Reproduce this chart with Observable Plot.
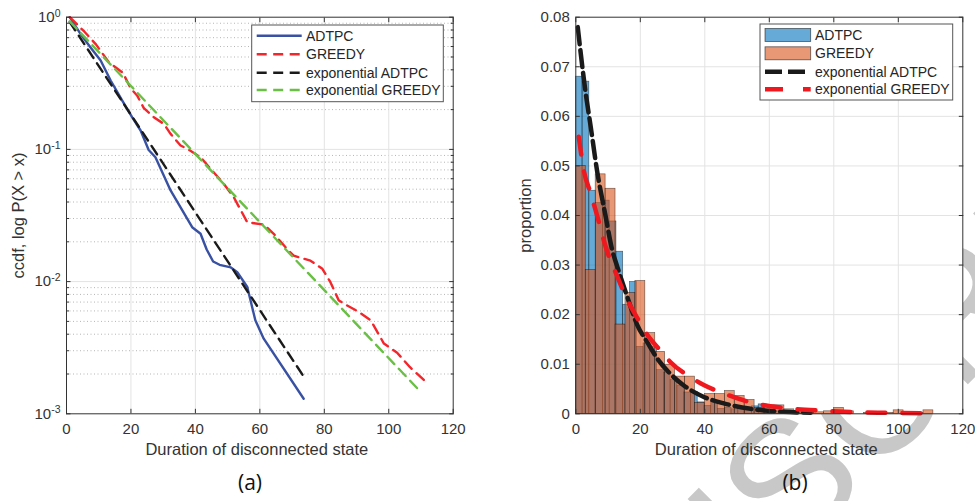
<!DOCTYPE html>
<html><head><meta charset="utf-8">
<script src="https://cdn.jsdelivr.net/npm/d3@7"></script>
<script src="https://cdn.jsdelivr.net/npm/@observablehq/plot@0.6"></script>
<style>
body{margin:0;background:#fff;}
#wrap{position:relative;width:975px;height:501px;overflow:hidden;}
#wrap svg{position:absolute;top:0;}
</style></head><body><div id="wrap"></div>
<script>
// ---------- data ----------
const xTicks = [0, 20, 40, 60, 80, 100, 120];
const ccdfTicks = [0.001, 0.01, 0.1, 1];
const propTicks = [0, 0.01, 0.02, 0.03, 0.04, 0.05, 0.06, 0.07, 0.08];
const seriesNames = ["ADTPC", "GREEDY", "exponential ADTPC", "exponential GREEDY"];

// (a) empirical ccdf
const ccdfAdtpcX = [1, 4.3, 7.4, 10.6, 13.7, 17.3, 20.4, 23, 25.5, 27.6, 32.3, 39, 41.6, 43.5, 45.5, 47.5, 51, 53, 56.1, 58.6, 61.2, 73.6];
const ccdfAdtpcY = [1, 0.75, 0.593, 0.47, 0.332, 0.234, 0.175, 0.139, 0.099, 0.0873, 0.0489, 0.0258, 0.023, 0.0175, 0.0142, 0.0134, 0.0128, 0.0118, 0.0091, 0.0051, 0.0037, 0.0013];
const ccdfGreedyX = [1, 5.5, 9.2, 13.1, 17.5, 19.9, 21.9, 24, 27.1, 30.2, 32.3, 35.4, 37.5, 41.6, 44.7, 48.8, 51.9, 56.1, 61.2, 64.3, 68.4, 70.5, 75.7, 79.4, 81.9, 84.5, 87.1, 90.7, 94.4, 98.5, 102.6, 106.6, 110.9];
const ccdfGreedyY = [1, 0.78, 0.62, 0.457, 0.38, 0.29, 0.256, 0.205, 0.175, 0.156, 0.131, 0.107, 0.101, 0.0873, 0.0713, 0.0549, 0.0435, 0.0281, 0.027, 0.023, 0.0177, 0.0157, 0.0144, 0.0125, 0.0099, 0.0072, 0.0066, 0.0059, 0.0051, 0.0034, 0.0029, 0.00225, 0.0018];
// (a) exponential fits (straight on log axis)
const ccdfExpAdtpcX = [1, 74];
const ccdfExpAdtpcY = [0.92, 0.00185];
const ccdfExpGreedyX = [1, 109.5];
const ccdfExpGreedyY = [0.93, 0.0015];

// (b) histograms (proportion per bin)
const adtpcBinWidth = 2.1;
const adtpcHist = [0.068, 0.067, 0.045, 0.0425, 0.043, 0.0388, 0.0327, 0.022, 0.0266, 0.0135, 0.0142, 0.0135, 0.0088, 0.0083, 0.0068, 0.0057, 0.0043, 0.0044, 0.0023, 0.0016, 0.0024, 0.0010, 0.0012, 0.0009, 0.0013, 0.0008, 0.0015, 0.0019, 0.0005, 0.0005, 0.0003, 0.0002, 0.0003, 0.0002, 0.0002];
const greedyBinWidth = 3.08;
const greedyHist = [0.050, 0.029, 0.0483, 0.0454, 0.018, 0.0244, 0.0268, 0.0163, 0.0125, 0.0099, 0.0075, 0.0075, 0.0022, 0.004, 0.004, 0.0046, 0.0036, 0.0028, 0.0012, 0.0017, 0.0017, 0.0009, 0.0005, 0.0007, 0.0003, 0.0005, 0.0012, 0.0005, 0, 0.0002, 0.0002, 0.0002, 0.0007, 0, 0.0002, 0.0007];
// (b) exponential pdf fits
const pdfExpAdtpcX = [0.6, 3, 4.6, 6.6, 9.2, 11.3, 12.8, 15.9, 19, 22.1, 25.2, 29.4, 33.5, 39.7, 45.9, 54.2, 64.5, 72.8];
const pdfExpAdtpcY = [0.078, 0.065, 0.058, 0.049, 0.040, 0.033, 0.0298, 0.0237, 0.018, 0.0145, 0.0112, 0.008, 0.0057, 0.0034, 0.0021, 0.001, 0.0004, 0.0002];
const pdfExpGreedyX = [0.9, 2.5, 4.6, 6.6, 9.7, 12.8, 15.9, 19, 22.1, 26.2, 29.4, 35.5, 39.7, 45.9, 54.2, 64.5, 76.9, 87.2, 97.5, 109.9];
const pdfExpGreedyY = [0.0559, 0.049, 0.0445, 0.040, 0.0328, 0.0278, 0.0231, 0.0194, 0.016, 0.0128, 0.0104, 0.0074, 0.0058, 0.0041, 0.0023, 0.0012, 0.0006, 0.0003, 0.0002, 0.0001];

// ---------- helpers ----------
const FONT = '"Liberation Sans", Arial, Helvetica, sans-serif';
const AX = "#333333";
const zipXY = (X, Y) => X.map((x, i) => ({x, y: Y[i]}));
const bins = (vals, w) => vals.map((v, i) => ({x1: i * w, x2: (i + 1) * w, v}));
const minorY = [0.001, 0.01, 0.1].flatMap(d => [2, 3, 4, 5, 6, 7, 8, 9].map(k => +(k * d).toPrecision(2)));
const COL = {
  blue: "#3851a3", red: "#f2262b", black: "#1a1a1a", green: "#6abf45",
  barBlue: "rgb(0,114,189)", barOrange: "rgb(217,83,25)", redB: "#f0181f"
};
const TICK = 4.5;
const inward = (axis, anchor, ticks) => axis({ticks, anchor, tickSize: -TICK, tickFormat: () => "", label: null});
const xLabel = () => Plot.text(["Duration of disconnected state"], {text: d => d, frameAnchor: "bottom", lineAnchor: "middle", textAnchor: "middle", dy: 36, dx: -3, fontSize: 16.5});
const yLabel = (t, dx) => Plot.text([t], {text: d => d, frameAnchor: "left", textAnchor: "middle", lineAnchor: "middle", rotate: -90, dx, fontSize: 16.5});

const wrap = d3.select("#wrap");

// background watermark (behind the axes)
const bg = wrap.append("svg").attr("width", 975).attr("height", 501).style("left", "0px");
bg.append("text")
  .attr("transform", "translate(437,915) rotate(-45)")
  .attr("font-family", FONT).attr("font-size", 170).attr("fill", "#c8c8c8")
  .text("MANUSCRIPT");

// ---------- panel (a) ----------
const A = Plot.plot({
  width: 487, height: 470,
  marginLeft: 66, marginRight: 34.3, marginTop: 16.7, marginBottom: 56.7,
  style: {background: "transparent", fontFamily: FONT, color: AX, overflow: "visible"},
  x: {domain: [0, 120]},
  y: {type: "log", domain: [0.001, 1]},
  marks: [
    Plot.frame({fill: "white", stroke: null}),
    Plot.ruleY(minorY, {stroke: "#b5b5b5", strokeDasharray: "1,2.5"}),
    Plot.ruleY(ccdfTicks.slice(1, -1), {stroke: "#e3e3e3"}),
    Plot.ruleX(xTicks.slice(1, -1), {stroke: "#e3e3e3"}),
    Plot.line(zipXY(ccdfAdtpcX, ccdfAdtpcY), {x: "x", y: "y", stroke: COL.blue, strokeWidth: 2.4}),
    Plot.line(zipXY(ccdfGreedyX, ccdfGreedyY), {x: "x", y: "y", stroke: COL.red, strokeWidth: 2.4, strokeDasharray: "10,6.5"}),
    Plot.line(zipXY(ccdfExpAdtpcX, ccdfExpAdtpcY), {x: "x", y: "y", stroke: COL.black, strokeWidth: 2.4, strokeDasharray: "10,6.5"}),
    Plot.line(zipXY(ccdfExpGreedyX, ccdfExpGreedyY), {x: "x", y: "y", stroke: COL.green, strokeWidth: 2.4, strokeDasharray: "10,6.5"}),
    inward(Plot.axisX, "bottom", xTicks),
    inward(Plot.axisX, "top", xTicks),
    inward(Plot.axisY, "left", ccdfTicks),
    inward(Plot.axisY, "right", ccdfTicks),
    Plot.axisY({ticks: minorY, anchor: "left", tickSize: -3, tickFormat: () => "", label: null}),
    Plot.axisY({ticks: minorY, anchor: "right", tickSize: -3, tickFormat: () => "", label: null}),
    Plot.axisX({ticks: xTicks, anchor: "bottom", tickSize: 0, tickPadding: 10, fontSize: 15, label: null}),
    Plot.axisY({ticks: ccdfTicks, anchor: "left", tickSize: 0, tickPadding: 6, fontSize: 15, label: null,
      tickFormat: d => "10^" + Math.round(Math.log10(d))}),
    xLabel(),
    yLabel("ccdf, log P(X > x)", -47.5),
    Plot.frame({stroke: AX, strokeWidth: 1})
  ]
});
A.style.left = "0px";
wrap.node().appendChild(A);
// superscript exponents on the log axis
d3.select(A).selectAll("text").each(function() {
  const t = this.textContent;
  if (/^10\^-?\d$/.test(t)) {
    const e = t.split("^")[1];
    const s = d3.select(this);
    s.text("");
    s.append("tspan").text("10");
    s.append("tspan").attr("dy", "-0.5em").attr("font-size", "0.7em").text(e);
  }
});

// ---------- panel (b) ----------
const B = Plot.plot({
  width: 488, height: 470,
  marginLeft: 88.3, marginRight: 12.7, marginTop: 16.7, marginBottom: 56.7,
  style: {background: "transparent", fontFamily: FONT, color: AX, overflow: "visible"},
  x: {domain: [0, 120]},
  y: {domain: [0, 0.08]},
  marks: [
    Plot.frame({fill: "white", stroke: null}),
    Plot.ruleY(propTicks.slice(1, -1), {stroke: "#e3e3e3"}),
    Plot.ruleX(xTicks.slice(1, -1), {stroke: "#e3e3e3"}),
    Plot.rectY(bins(adtpcHist, adtpcBinWidth), {x1: "x1", x2: "x2", y1: 0, y2: "v",
      fill: COL.barBlue, fillOpacity: 0.6, stroke: "#000", strokeOpacity: 0.6, strokeWidth: 0.6}),
    Plot.rectY(bins(greedyHist, greedyBinWidth), {x1: "x1", x2: "x2", y1: 0, y2: "v",
      fill: COL.barOrange, fillOpacity: 0.6, stroke: "#000", strokeOpacity: 0.6, strokeWidth: 0.6}),
    Plot.line(zipXY(pdfExpAdtpcX, pdfExpAdtpcY), {x: "x", y: "y", curve: "monotone-x", stroke: COL.black, strokeWidth: 4.5, strokeDasharray: "17,6"}),
    Plot.line(zipXY(pdfExpGreedyX, pdfExpGreedyY), {x: "x", y: "y", curve: "monotone-x", stroke: COL.redB, strokeWidth: 4.5, strokeDasharray: "18,17"}),
    inward(Plot.axisX, "bottom", xTicks),
    inward(Plot.axisX, "top", xTicks),
    inward(Plot.axisY, "left", propTicks),
    inward(Plot.axisY, "right", propTicks),
    Plot.axisX({ticks: xTicks, anchor: "bottom", tickSize: 0, tickPadding: 10, fontSize: 15, label: null}),
    Plot.axisY({ticks: propTicks, anchor: "left", tickSize: 0, tickPadding: 6, fontSize: 15, label: null,
      tickFormat: d => d === 0 ? "0" : String(d)}),
    xLabel(),
    yLabel("proportion", -50),
    Plot.frame({stroke: AX, strokeWidth: 1})
  ]
});
B.style.left = "487px";
wrap.node().appendChild(B);

// ---------- legends & captions overlay ----------
const ov = wrap.append("svg").attr("width", 975).attr("height", 501).style("left", "0px")
  .style("pointer-events", "none").attr("font-family", FONT);

function legendBox(x0, y0, w, h) {
  ov.append("rect").attr("x", x0).attr("y", y0).attr("width", w).attr("height", h)
    .attr("fill", "white").attr("stroke", "#555").attr("stroke-width", 1);
}
// legend (a)
legendBox(251.7, 25, 191.6, 76.7);
const legA = [
  {c: COL.blue, dash: null}, {c: COL.red, dash: "10,6.5"}, {c: COL.black, dash: "10,6.5"}, {c: COL.green, dash: "10,6.5"}
];
const rowsA = [35.7, 54.3, 72.7, 90];
legA.forEach((d, i) => {
  ov.append("line").attr("x1", 256.7).attr("x2", 301.7).attr("y1", rowsA[i]).attr("y2", rowsA[i])
    .attr("stroke", d.c).attr("stroke-width", 2.6).attr("stroke-dasharray", d.dash);
  ov.append("text").attr("x", 306).attr("y", rowsA[i]).attr("dy", "0.36em").attr("font-size", 14)
    .attr("fill", "#262626").text(seriesNames[i]);
});
// legend (b)
legendBox(760, 24, 192.7, 76);
const rowsB = [35, 53.3, 71.7, 89.3];
[COL.barBlue, COL.barOrange].forEach((c, i) => {
  ov.append("rect").attr("x", 765).attr("y", rowsB[i] - 6.5).attr("width", 45.7).attr("height", 13)
    .attr("fill", c).attr("fill-opacity", 0.6).attr("stroke", "#000").attr("stroke-opacity", 0.6).attr("stroke-width", 0.8);
});
ov.append("line").attr("x1", 765).attr("x2", 810.7).attr("y1", rowsB[2]).attr("y2", rowsB[2])
  .attr("stroke", COL.black).attr("stroke-width", 4.5).attr("stroke-dasharray", "17,6");
ov.append("line").attr("x1", 765).attr("x2", 810.7).attr("y1", rowsB[3]).attr("y2", rowsB[3])
  .attr("stroke", COL.redB).attr("stroke-width", 4.5).attr("stroke-dasharray", "18,20");
seriesNames.forEach((s, i) => {
  ov.append("text").attr("x", 815).attr("y", rowsB[i]).attr("dy", "0.36em").attr("font-size", 14)
    .attr("fill", "#262626").text(s);
});
// captions
[["(a)", 250], ["(b)", 795]].forEach(([t, x]) => {
  ov.append("text").attr("x", x).attr("y", 490).attr("text-anchor", "middle")
    .attr("font-family", '"Open Sans", Lato, sans-serif').attr("font-size", 21).attr("fill", "#111").text(t);
});
</script></body></html>
